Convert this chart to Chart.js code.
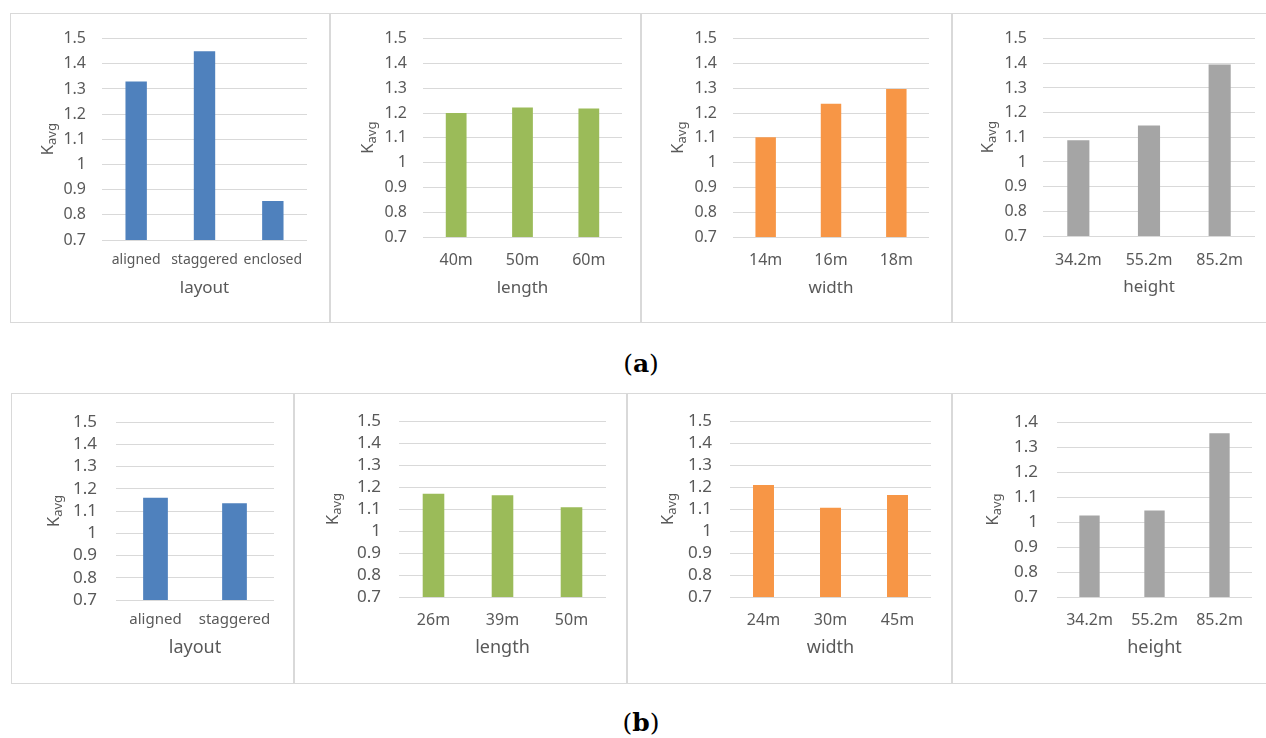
<!DOCTYPE html>
<html>
<head>
<meta charset="utf-8">
<script src="https://cdn.jsdelivr.net/npm/chart.js@4.4.0/dist/chart.umd.min.js"></script>
<style>
  body { margin: 0; background: #fff; width: 1266px; height: 738px; overflow: hidden; position: relative; }
  .panel { position: absolute; border: 1px solid #d9d9d9; box-sizing: border-box; background: #fff; }
  .panel canvas { position: absolute; left: -1px; top: -1px; }
  .cap { position: absolute; font-family: "DejaVu Serif", serif; font-size: 25px; color: #000; transform: translate(-50%, -50%); white-space: nowrap; }
  .cap b { font-weight: bold; }
</style>
</head>
<body>
<div class="cap" style="left:641px;top:363px">(<b>a</b>)</div>
<div class="cap" style="left:641px;top:722px">(<b>b</b>)</div>
<script>
// (a) values
const layoutA = ["aligned", "staggered", "enclosed"];
const layoutAVals = [1.33, 1.45, 0.855];
const lengthA = ["40m", "50m", "60m"];
const lengthAVals = [1.2, 1.222, 1.218];
const widthA = ["14m", "16m", "18m"];
const widthAVals = [1.102, 1.237, 1.297];
const heightA = ["34.2m", "55.2m", "85.2m"];
const heightAVals = [1.088, 1.148, 1.395];

// (b) values
const layoutB = ["aligned", "staggered"];
const layoutBVals = [1.16, 1.135];
const lengthB = ["26m", "39m", "50m"];
const lengthBVals = [1.17, 1.163, 1.108];
const widthB = ["24m", "30m", "45m"];
const widthBVals = [1.21, 1.106, 1.164];
const heightB = ["34.2m", "55.2m", "85.2m"];
const heightBVals = [1.026, 1.046, 1.356];

// y tick labels
const yTicks = [0.7, 0.8, 0.9, 1, 1.1, 1.2, 1.3, 1.4, 1.5];
const yTicksShort = [0.7, 0.8, 0.9, 1, 1.1, 1.2, 1.3, 1.4];

const BLUE = "#4F81BD", GREEN = "#9BBB59", ORANGE = "#F79646", GRAY = "#A5A5A5";
const TEXT = "#595959";
const FONT = '"Noto Sans", sans-serif';

// box / plot are page pixel rects [left, top, right, bottom]
const panels = [
  { labels: layoutA, values: layoutAVals, color: BLUE, title: "layout", ticks: yTicks,
    box: [10, 13, 330, 323], plot: [102, 36, 307, 240], tickY: 260, titleY: 288, kx: -55, yPad: 16, yFont: 16, xFont: 14, tFont: 17 },
  { labels: lengthA, values: lengthAVals, color: GREEN, title: "length", ticks: yTicks,
    box: [330, 13, 641, 323], plot: [423, 35, 622, 237], tickY: 260, titleY: 288, kx: -56, yPad: 16, yFont: 16, xFont: 16, tFont: 17 },
  { labels: widthA, values: widthAVals, color: ORANGE, title: "width", ticks: yTicks,
    box: [641, 13, 952, 323], plot: [733, 34, 929, 237], tickY: 260, titleY: 288, kx: -56, yPad: 16, yFont: 16, xFont: 16, tFont: 17 },
  { labels: heightA, values: heightAVals, color: GRAY, title: "height", ticks: yTicks,
    box: [952, 13, 1268, 323], plot: [1043, 34, 1255, 236], tickY: 260, titleY: 287, kx: -56, yPad: 16, yFont: 16, xFont: 16, tFont: 17 },
  { labels: layoutB, values: layoutBVals, color: BLUE, title: "layout", ticks: yTicks,
    box: [11, 393, 294, 684], plot: [116, 415, 274, 600], tickY: 620, titleY: 648, kx: -63, yPad: 19, yFont: 17, xFont: 15, tFont: 18 },
  { labels: lengthB, values: lengthBVals, color: GREEN, title: "length", ticks: yTicks,
    box: [294, 393, 627, 684], plot: [399, 415, 606, 597], tickY: 620, titleY: 648, kx: -67, yPad: 18, yFont: 17, xFont: 16, tFont: 18 },
  { labels: widthB, values: widthBVals, color: ORANGE, title: "width", ticks: yTicks,
    box: [627, 393, 952, 684], plot: [730, 416, 931, 597], tickY: 620, titleY: 648, kx: -63, yPad: 18, yFont: 17, xFont: 16, tFont: 18 },
  { labels: heightB, values: heightBVals, color: GRAY, title: "height", ticks: yTicksShort,
    box: [952, 393, 1268, 684], plot: [1057, 416, 1252, 597], tickY: 620, titleY: 648, kx: -65, yPad: 19, yFont: 17, xFont: 16, tFont: 18 }
];

// rotated "K" with subscript "avg"
const kavgPlugin = {
  id: "kavg",
  afterDraw(chart, args, opts) {
    const { ctx, chartArea: a } = chart;
    const big = opts.size, small = Math.round(opts.size * 0.75);
    ctx.save();
    ctx.fillStyle = TEXT;
    ctx.translate(a.left + opts.dx, (a.top + a.bottom) / 2);
    ctx.rotate(-Math.PI / 2);
    ctx.textBaseline = "alphabetic";
    ctx.textAlign = "left";
    ctx.font = big + "px " + FONT;
    const kw = ctx.measureText("K").width;
    ctx.font = small + "px " + FONT;
    const sw = ctx.measureText("avg").width;
    const x0 = -(kw + sw) / 2;
    ctx.font = big + "px " + FONT;
    ctx.fillText("K", x0, big * 0.36);
    ctx.font = small + "px " + FONT;
    ctx.fillText("avg", x0 + kw, big * 0.36 + 3);
    ctx.restore();
  }
};

const YW = 56;

panels.forEach(p => {
  const [l, t, r, b] = p.box;
  const w = r - l, h = b - t;
  const div = document.createElement("div");
  div.className = "panel";
  div.style.left = l + "px";
  div.style.top = t + "px";
  div.style.width = w + "px";
  div.style.height = h + "px";
  const canvas = document.createElement("canvas");
  canvas.width = w;
  canvas.height = h;
  canvas.style.width = w + "px";
  canvas.style.height = h + "px";
  div.appendChild(canvas);
  document.body.appendChild(div);

  const [pl, pt, pr, pb] = p.plot;
  const titleLH = p.tFont * 1.2;
  const XH = p.titleY - pb + titleLH / 2 + 2;

  new Chart(canvas.getContext("2d"), {
    type: "bar",
    data: {
      labels: p.labels,
      datasets: [{
        data: p.values,
        backgroundColor: p.color,
        borderWidth: 0,
        barPercentage: 0.313,
        categoryPercentage: 1
      }]
    },
    options: {
      responsive: false,
      animation: false,
      layout: {
        padding: { left: pl - l - YW, top: pt - t, right: r - pr, bottom: b - pb - XH }
      },
      plugins: {
        legend: { display: false },
        tooltip: { enabled: false },
        kavg: { dx: p.kx, size: 17 }
      },
      scales: {
        x: {
          grid: { display: false, drawTicks: false },
          border: { display: false },
          ticks: {
            color: TEXT,
            font: { family: FONT, size: p.xFont },
            padding: p.tickY - pb - p.xFont * 0.6,
            maxRotation: 0,
            autoSkip: false
          },
          title: {
            display: true,
            text: p.title,
            color: TEXT,
            font: { family: FONT, size: p.tFont },
            padding: { top: 0, bottom: 2 }
          },
          afterFit: s => { s.height = XH; }
        },
        y: {
          min: p.ticks[0],
          max: p.ticks[p.ticks.length - 1],
          grid: { color: "#d9d9d9", lineWidth: 1, drawTicks: false },
          border: { display: false },
          ticks: {
            color: TEXT,
            font: { family: FONT, size: p.yFont },
            padding: p.yPad,
            autoSkip: false,
            callback: v => String(+Number(v).toFixed(1))
          },
          afterBuildTicks: s => { s.ticks = p.ticks.map(v => ({ value: v })); },
          afterFit: s => { s.width = YW; }
        }
      }
    },
    plugins: [kavgPlugin]
  });
});
</script>
</body>
</html>
